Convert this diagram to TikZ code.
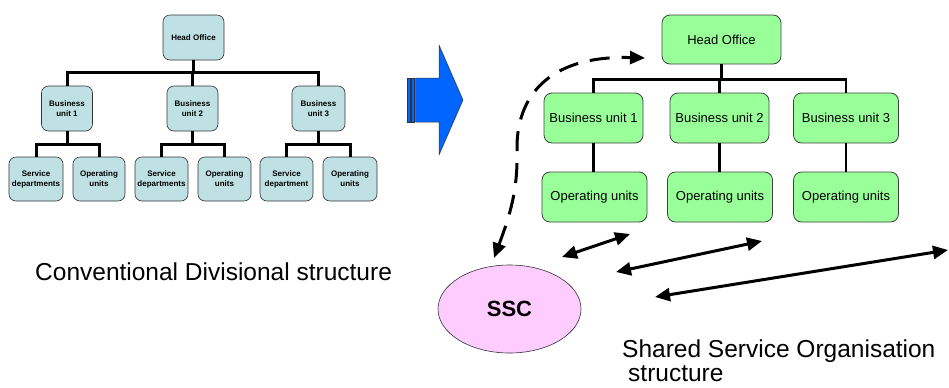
\documentclass[tikz,border=0pt]{standalone}
\usepackage{fontspec}
\setmainfont{Liberation Sans}
\usetikzlibrary{arrows.meta,shapes.geometric}

\definecolor{boxblue}{RGB}{191,225,228}
\definecolor{boxgreen}{RGB}{153,255,153}
\definecolor{sscpink}{RGB}{255,204,255}
\definecolor{arrowblue}{RGB}{0,102,255}

\begin{document}
\begin{tikzpicture}[x=1bp, y=-1bp,
    oldbox/.style={draw=black!80, line width=0.6bp, fill=boxblue, rounded corners=7bp, inner sep=0pt,
        align=center, font=\fontsize{8bp}{10bp}\selectfont\bfseries, minimum height=45bp},
    newbox/.style={draw=black!75, line width=0.8bp, fill=boxgreen, rounded corners=8bp, inner sep=0pt,
        font=\fontsize{13bp}{15bp}\selectfont, minimum height=50bp},
    oldline/.style={line width=3bp},
    newline/.style={line width=2.5bp},
    link/.style={line width=3bp, {Triangle[length=15bp,width=13bp]}-{Triangle[length=15bp,width=13bp]}},
    bigtext/.style={font=\fontsize{24.5bp}{28bp}\selectfont, inner sep=0pt, anchor=base west}]
    \useasboundingbox (0,0) rectangle (949,387);

    % Conventional divisional chart
    \node[oldbox, minimum width=61bp] (hoL) at (193.5,37.5) {Head Office};

    \node[oldbox, minimum width=51bp] (buL1) at (67,108.5) {Business\\unit 1};
    \node[oldbox, minimum width=51bp] (buL2) at (192.5,108.5) {Business\\unit 2};
    \node[oldbox, minimum width=53bp] (buL3) at (318.5,108.5) {Business\\unit 3};

    \node[oldbox, minimum width=54bp, minimum height=44bp] (sdL1) at (36,179) {Service\\departments};
    \node[oldbox, minimum width=52bp, minimum height=44bp] (ouL1) at (99,179) {Operating\\units};
    \node[oldbox, minimum width=53bp, minimum height=44bp] (sdL2) at (161.5,179) {Service\\departments};
    \node[oldbox, minimum width=53bp, minimum height=44bp] (ouL2) at (224.5,179) {Operating\\units};
    \node[oldbox, minimum width=53bp, minimum height=44bp] (sdL3) at (286.5,179) {Service\\department};
    \node[oldbox, minimum width=54bp, minimum height=44bp] (ouL3) at (350,179) {Operating\\units};

    \draw[oldline] (hoL.south) -- ++(0,13);
    \draw[oldline] (buL1.north) -- ++(0,-13) -| (buL3.north);
    \draw[oldline] (buL2.north) -- ++(0,-13);

    \draw[oldline] (buL1.south) -- ++(0,14);
    \draw[oldline] (sdL1.north) -- ++(0,-12) -| (ouL1.north);
    \draw[oldline] (buL2.south) -- ++(0,14);
    \draw[oldline] (sdL2.north) -- ++(0,-12) -| (ouL2.north);
    \draw[oldline] (buL3.south) -- ++(0,14);
    \draw[oldline] (sdL3.north) -- ++(0,-12) -| (ouL3.north);

    \node[bigtext] (convlabel) at (35,280) {Conventional Divisional structure};

    % Blue block arrow
    \filldraw[fill=arrowblue, draw=black!80, line width=0.5bp]
        (415.5,78) -- (439,78) -- (439,45) -- (463,100) -- (439,155) -- (439,122) -- (415.5,122) -- cycle;
    \filldraw[fill=arrowblue, draw=black!80, line width=0.5bp] (407,78) rectangle (410,122);
    \filldraw[fill=arrowblue, draw=black!80, line width=0.5bp] (411.5,78) rectangle (414,122);

    % Shared service chart
    \node[newbox, minimum width=119bp, minimum height=49bp] (hoR) at (721.5,39.5) {Head Office};

    \node[newbox, minimum width=99bp] (buR1) at (593.5,118) {Business unit 1};
    \node[newbox, minimum width=99bp] (buR2) at (719.5,118) {Business unit 2};
    \node[newbox, minimum width=105bp] (buR3) at (846,118) {Business unit 3};

    \node[newbox, minimum width=105bp] (ouR1) at (594.5,197) {Operating units};
    \node[newbox, minimum width=105bp] (ouR2) at (720,197) {Operating units};
    \node[newbox, minimum width=105bp] (ouR3) at (846,197) {Operating units};

    \draw[newline] (hoR.south) -- ++(0,16);
    \draw[newline] (buR1.north) -- ++(0,-13) -| (buR3.north);
    \draw[newline] (buR2.north) -- ++(0,-13);
    \draw[newline] (buR1.south) -- (ouR1.north -| buR1.south);
    \draw[newline] (buR2.south) -- (ouR2.north -| buR2.south);
    \draw[newline] (buR3.south) -- (ouR3.north);

    % SSC and its links
    \node[ellipse, draw=black!80, line width=0.6bp, fill=sscpink, minimum width=143bp, minimum height=88bp,
        inner sep=0pt, font=\fontsize{22bp}{26bp}\selectfont\bfseries] (ssc) at (509.5,309) {SSC};

    \coordinate (dashS) at (494,258);
    \coordinate (dashE) at (645,58);
    \draw[line width=3bp, dash pattern=on 20bp off 12bp, {Triangle[length=15bp,width=13bp]}-{Triangle[length=15bp,width=13bp]}]
        (dashS) .. controls (510,215) and (518,190) .. (517,150) .. controls (516,100) and (545,55) .. (dashE);

    \coordinate (sscA) at (562,257);
    \coordinate (ouA) at (630,234);
    \coordinate (sscB) at (616,272);
    \coordinate (ouB) at (762,241);
    \coordinate (sscC) at (655,297);
    \coordinate (ouC) at (948,250);
    \draw[link] (sscA) -- (ouA);
    \draw[link] (sscB) -- (ouB);
    \draw[link] (sscC) -- (ouC);

    \node[bigtext] (ssolabel) at (622,357) {Shared Service Organisation};
    \node[bigtext] (ssolabel2) at (628,381) {structure};

\end{tikzpicture}
\end{document}
